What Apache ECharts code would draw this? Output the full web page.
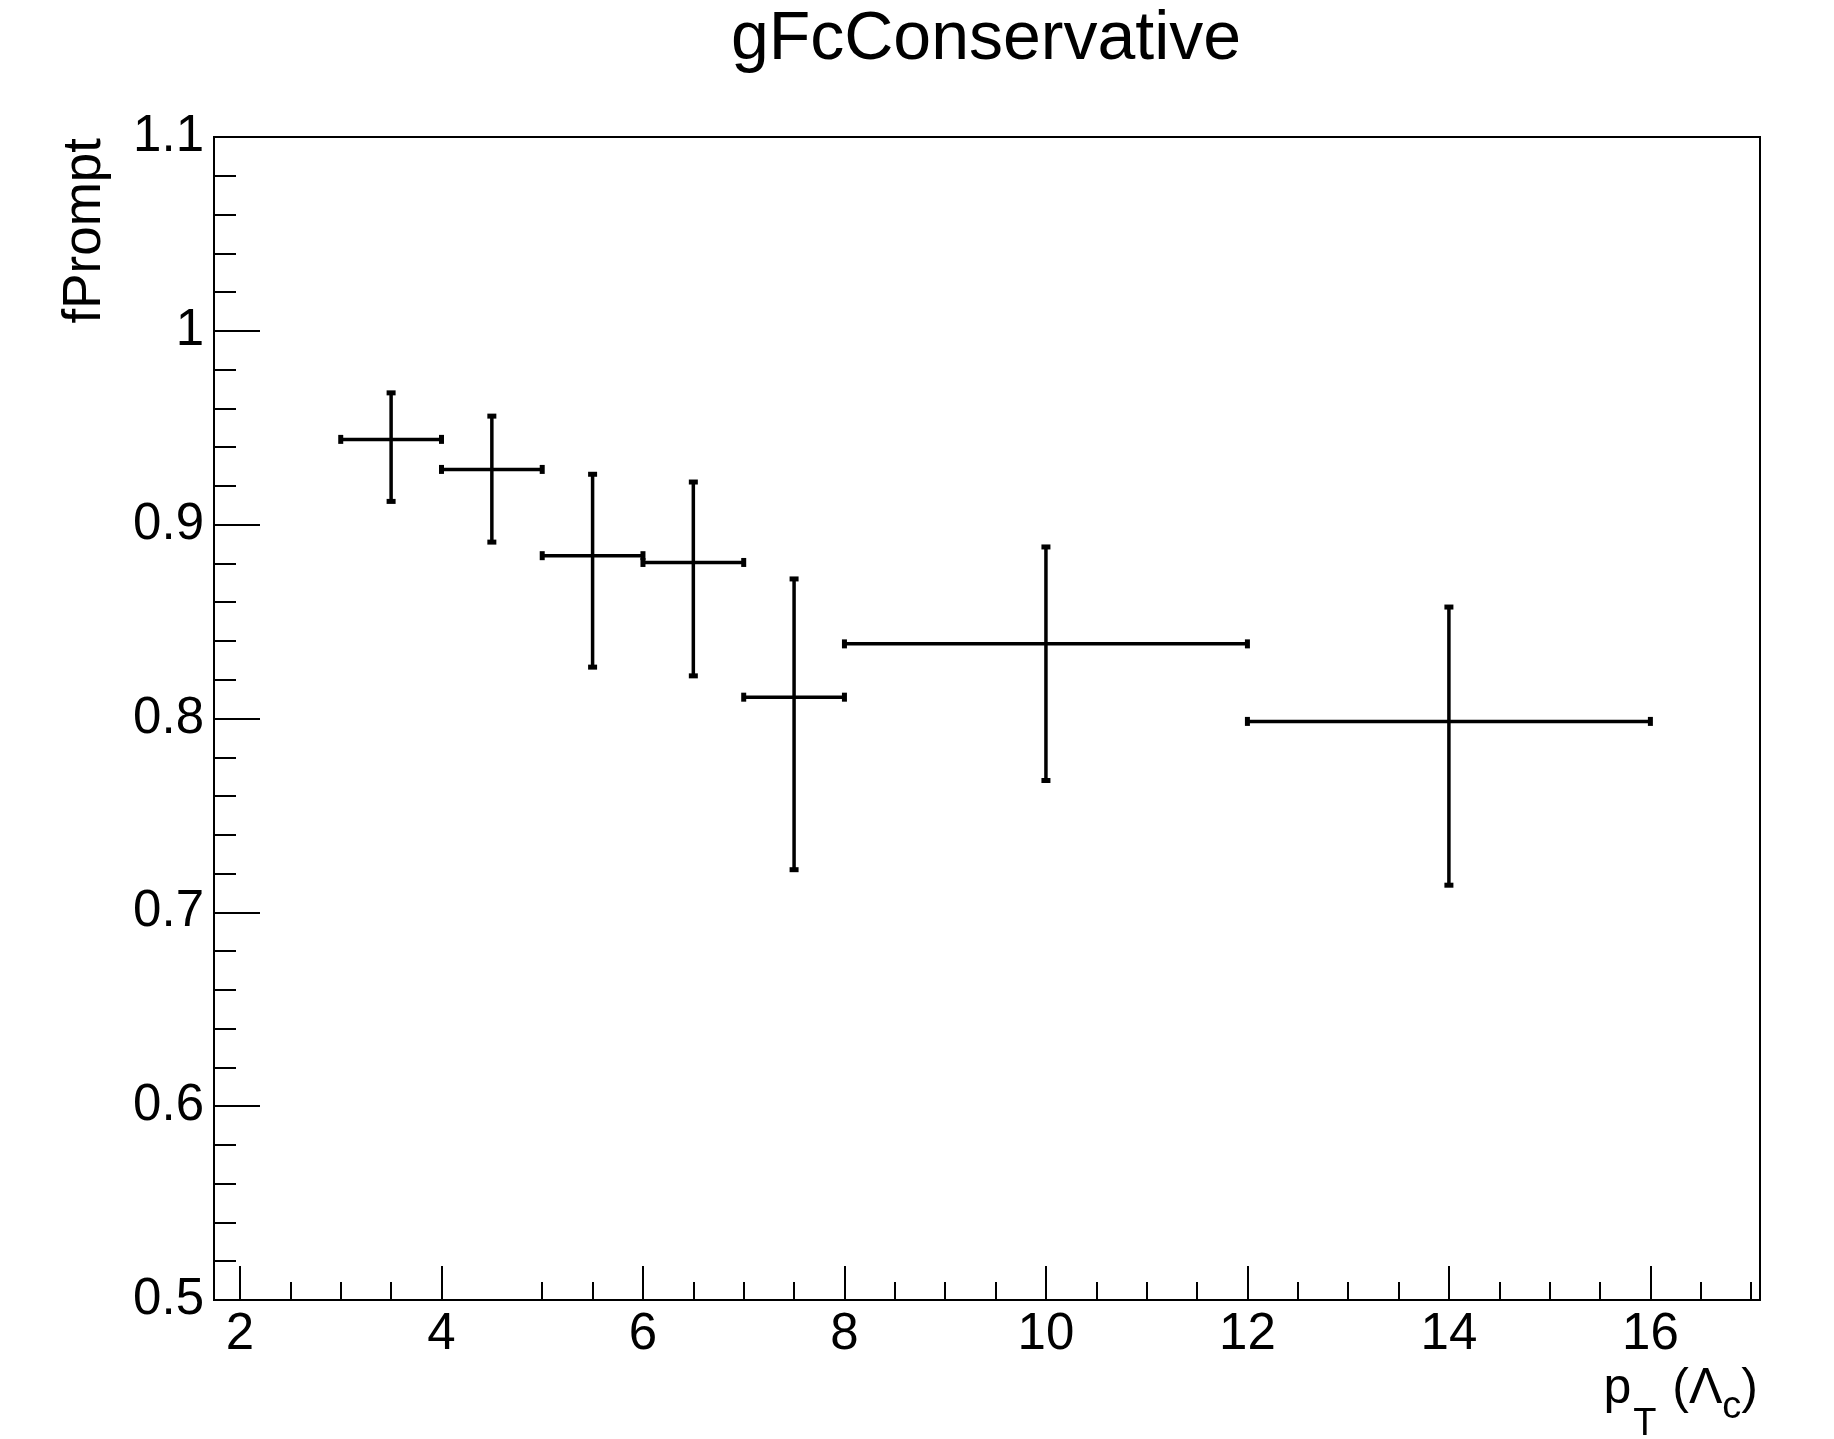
<!DOCTYPE html>
<html>
<head>
<meta charset="utf-8">
<title>gFcConservative</title>
<script src="https://cdn.jsdelivr.net/npm/echarts@6/dist/echarts.min.js"></script>
<style>
  html, body { margin: 0; padding: 0; background: #fff; }
  #chart { width: 1834px; height: 1439px; }
</style>
</head>
<body>
<div id="chart"></div>
<script>
// pT bins (bin centre and half width) and fPrompt with asymmetric errors
const ptCenter = [3.5, 4.5, 5.5, 6.5, 7.5, 10, 14];
const ptHalfWidth = [0.5, 0.5, 0.5, 0.5, 0.5, 2, 2];
const fPrompt = [0.944, 0.9285, 0.884, 0.8805, 0.811, 0.8385, 0.7985];
const errUp = [0.024, 0.0275, 0.042, 0.0415, 0.061, 0.05, 0.059];
const errDown = [0.032, 0.0375, 0.0575, 0.0585, 0.089, 0.0705, 0.0845];

// axis ticks
const xMajorTicks = [2, 4, 6, 8, 10, 12, 14, 16];
const xMinorTicks = [2.5, 3, 3.5, 5, 5.5, 6.5, 7, 7.5, 8.5, 9, 9.5, 10.5, 11, 11.5,
  12.5, 13, 13.5, 14.5, 15, 15.5, 16.5, 17];

const FONT = 'Liberation Sans';
const X_MIN = 1.742;
const X_MAX = 17.088;

const points = ptCenter.map((x, i) => [x, fPrompt[i], ptHalfWidth[i], errUp[i], errDown[i]]);

const chart = echarts.init(document.getElementById('chart'));

// draws a TGraphAsymmErrors style cross with small end caps
function renderErrorCross(params, api) {
  const x = api.value(0);
  const y = api.value(1);
  const c = api.coord([x, y]);
  const left = api.coord([x - api.value(2), y]);
  const right = api.coord([x + api.value(2), y]);
  const top = api.coord([x, y + api.value(3)]);
  const bottom = api.coord([x, y - api.value(4)]);
  const line = { stroke: '#000', lineWidth: 3.5 };
  const cap = { fill: '#000' };
  return {
    type: 'group',
    children: [
      { type: 'line', shape: { x1: left[0], y1: c[1], x2: right[0], y2: c[1] }, style: line },
      { type: 'line', shape: { x1: c[0], y1: top[1], x2: c[0], y2: bottom[1] }, style: line },
      { type: 'rect', shape: { x: left[0] - 2.5, y: c[1] - 4.5, width: 5, height: 9 }, style: cap },
      { type: 'rect', shape: { x: right[0] - 2.5, y: c[1] - 4.5, width: 5, height: 9 }, style: cap },
      { type: 'rect', shape: { x: c[0] - 4.5, y: top[1] - 2.5, width: 9, height: 5 }, style: cap },
      { type: 'rect', shape: { x: c[0] - 4.5, y: bottom[1] - 2.5, width: 9, height: 5 }, style: cap }
    ]
  };
}

const option = {
  backgroundColor: '#fff',
  animation: false,
  grid: {
    left: 214,
    top: 137,
    right: 74,
    bottom: 139,
    show: true,
    borderColor: '#000',
    borderWidth: 2,
    containLabel: false
  },
  xAxis: [
    {
      type: 'value',
      min: X_MIN,
      max: X_MAX,
      axisLine: { show: true, lineStyle: { color: '#000', width: 2 } },
      axisTick: { show: true, inside: true, length: 34, customValues: xMajorTicks,
        lineStyle: { color: '#000', width: 2 } },
      axisLabel: { show: true, customValues: xMajorTicks, margin: 9, color: '#000',
        fontFamily: FONT, fontSize: 51 },
      splitLine: { show: false }
    },
    {
      // minor ticks only
      type: 'value',
      position: 'bottom',
      min: X_MIN,
      max: X_MAX,
      axisLine: { show: false },
      axisTick: { show: true, inside: true, length: 18, customValues: xMinorTicks,
        lineStyle: { color: '#000', width: 2 } },
      axisLabel: { show: false },
      splitLine: { show: false }
    }
  ],
  yAxis: {
    type: 'value',
    min: 0.5,
    max: 1.1,
    interval: 0.1,
    axisLine: { show: true, lineStyle: { color: '#000', width: 2 } },
    axisTick: { show: true, inside: true, length: 46, lineStyle: { color: '#000', width: 2 } },
    minorTick: { show: true, splitNumber: 5, length: 22, lineStyle: { color: '#000', width: 2 } },
    axisLabel: { margin: 10, color: '#000', fontFamily: FONT, fontSize: 51 },
    splitLine: { show: false },
    minorSplitLine: { show: false }
  },
  graphic: [
    {
      type: 'text',
      x: 986,
      y: 40,
      style: { text: 'gFcConservative', fontFamily: FONT, fontSize: 68, fill: '#000',
        align: 'center', verticalAlign: 'middle' }
    },
    {
      type: 'text',
      x: 85,
      y: 138,
      rotation: Math.PI / 2,
      style: { text: 'fPrompt', fontFamily: FONT, fontSize: 53, fill: '#000',
        align: 'right', verticalAlign: 'middle' }
    },
    {
      type: 'text',
      x: 1758,
      y: 1364,
      style: {
        text: '{m|p}{s|T}{m| (Λ}{c|c}{m|)}',
        align: 'right',
        verticalAlign: 'top',
        fill: '#000',
        rich: {
          m: { fontFamily: FONT, fontSize: 50, lineHeight: 50, verticalAlign: 'top', fill: '#000' },
          s: { fontFamily: FONT, fontSize: 38, lineHeight: 38, verticalAlign: 'top',
            padding: [42, 2, 0, 2], fill: '#000' },
          c: { fontFamily: FONT, fontSize: 38, lineHeight: 38, verticalAlign: 'top',
            padding: [25, 0, 0, 0], fill: '#000' }
        }
      }
    }
  ],
  series: [
    {
      type: 'custom',
      xAxisIndex: 0,
      yAxisIndex: 0,
      renderItem: renderErrorCross,
      encode: { x: 0, y: 1 },
      data: points
    }
  ]
};

chart.setOption(option);
window.addEventListener('resize', () => chart.resize());
</script>
</body>
</html>
